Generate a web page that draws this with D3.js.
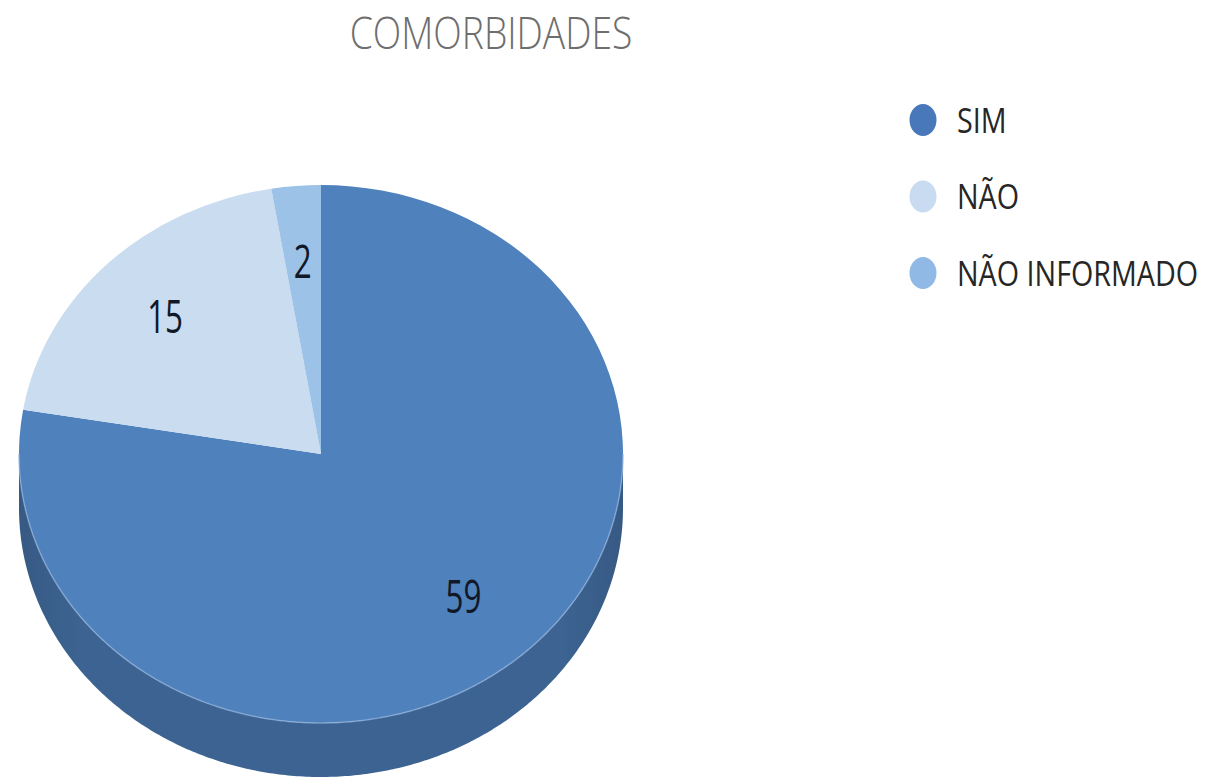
<!DOCTYPE html>
<html><head><meta charset="utf-8">
<script src="https://cdn.jsdelivr.net/npm/d3@7"></script>
<style>html,body{margin:0;padding:0;background:#fff;}svg{display:block;}</style>
</head><body>
<svg id="chart" width="1208" height="779"></svg>
<script>
const title = "COMORBIDADES";
const categories = ["SIM", "NÃO", "NÃO INFORMADO"];
const values = [59, 15, 2];
const colors = ["#4F81BD", "#C9DCF0", "#9CC2E8"];
const legendColors = ["#4878BA", "#C8DBF0", "#90B9E5"];

const W = 1208, H = 779;
const cx = 321, cy = 454, rx = 302, ry = 269, depth = 54;
const k = ry / rx;
const FONT = "'Open Sans', 'Liberation Sans', sans-serif";
const CAP = 0.714; // Open Sans cap-height ratio

const svg = d3.select("#chart");
svg.append("rect").attr("width", W).attr("height", H).attr("fill", "#fff");

function addText(parent, str, x, y, capH, sx, anchor, color) {
  return parent.append("text")
    .attr("transform", `translate(${x},${y}) scale(${sx},1)`)
    .attr("text-anchor", anchor)
    .attr("font-family", FONT)
    .attr("font-size", capH / CAP)
    .attr("fill", color)
    .text(str);
}

// Title
addText(svg, title, 491, 49, 32, 0.83, "middle", "#6e6e6e").attr("font-weight", 300);

const pie = d3.pie().sort(null).value(d => d)(values);

// side walls (front half only)
const defs = svg.append("defs");
const grad = defs.append("linearGradient").attr("id", "sideGrad")
  .attr("x1", "0%").attr("x2", "100%").attr("y1", "0%").attr("y2", "0%");
const sideBase = d3.color(colors[0]).darker(0.75);
[[0, sideBase.darker(0.25)], [0.1, sideBase], [0.9, sideBase], [1, sideBase.darker(0.25)]]
  .forEach(([o, c]) => grad.append("stop").attr("offset", o).attr("stop-color", c.formatHex()));

const line = d3.line();
pie.forEach((d, i) => {
  const a0 = Math.max(d.startAngle, Math.PI / 2);
  const a1 = Math.min(d.endAngle, 3 * Math.PI / 2);
  if (a0 >= a1) return;
  const angs = d3.range(a0, a1, 0.01).concat([a1]);
  const top = angs.map(a => [cx + rx * Math.sin(a), cy - ry * Math.cos(a)]);
  const bot = angs.slice().reverse().map(a => [cx + rx * Math.sin(a), cy - ry * Math.cos(a) + depth]);
  svg.append("path")
    .attr("d", line(top.concat(bot)) + "Z")
    .attr("fill", i === 0 ? "url(#sideGrad)" : d3.color(colors[i]).darker(0.75));
});

// top face
const gTop = svg.append("g").attr("transform", `translate(${cx},${cy}) scale(1,${k})`);
const arc = d3.arc().innerRadius(0).outerRadius(rx);
gTop.selectAll("path.slice").data(pie).join("path")
  .attr("class", "slice")
  .attr("d", arc)
  .attr("fill", (d, i) => colors[i]);

// light rim along front edge of top face
pie.forEach((d, i) => {
  const a0 = Math.max(d.startAngle, Math.PI / 2);
  const a1 = Math.min(d.endAngle, 3 * Math.PI / 2);
  if (a0 >= a1) return;
  const angs = d3.range(a0, a1, 0.01).concat([a1]);
  const pts = angs.map(a => [cx + rx * Math.sin(a), cy - ry * Math.cos(a)]);
  svg.append("path").attr("d", line(pts)).attr("fill", "none")
    .attr("stroke", "#8EB0DA").attr("stroke-width", 1.5).attr("opacity", 0.7);
});

// data labels
const labelArc = d3.arc().innerRadius(rx * 0.73).outerRadius(rx * 0.73);
pie.forEach((d, i) => {
  const [x, y] = labelArc.centroid(d);
  addText(svg, String(values[i]), cx + x, cy + y * k * 0.97 + 14, 32, 0.7, "middle", "#111827");
});

// legend
const legend = svg.append("g");
categories.forEach((c, i) => {
  const yc = 120 + i * 76.5;
  legend.append("ellipse").attr("cx", 923).attr("cy", yc).attr("rx", 13.5).attr("ry", 16)
    .attr("fill", legendColors[i]);
  addText(legend, c, 957, yc + 12.5, 25, 0.82, "start", "#262626");
});
</script>
</body></html>
